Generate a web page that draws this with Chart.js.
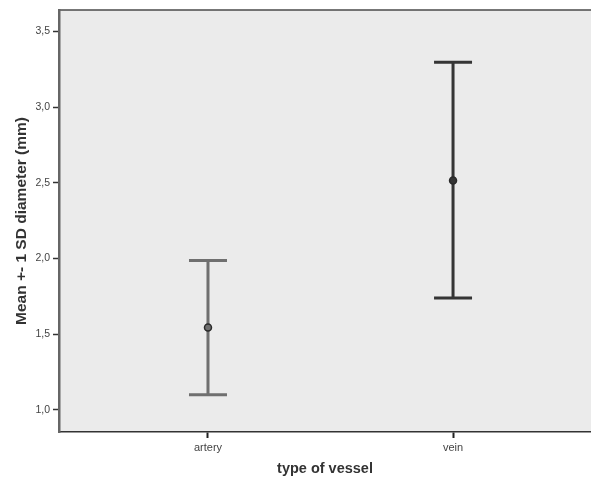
<!DOCTYPE html>
<html>
<head>
<meta charset="utf-8">
<script src="https://cdn.jsdelivr.net/npm/chart.js@4"></script>
<style>
  html, body { margin: 0; padding: 0; background: #fff; overflow: hidden; }
  #wrap { width: 591px; height: 478px; }
  canvas { display: block; }
</style>
</head>
<body>
<div id="wrap"><canvas id="chart" width="591" height="478"></canvas></div>
<script>
// data
const categories = ["artery", "vein"];
const means = [1.544, 2.516];
const upper = [1.987, 3.297];
const lower = [1.100, 1.739];
const yTicks = [1.0, 1.5, 2.0, 2.5, 3.0, 3.5];
const yTickLabels = ["1,0", "1,5", "2,0", "2,5", "3,0", "3,5"];
const barColors = ["#6f6f6f", "#353535"];

const font = "'Liberation Sans', Arial, sans-serif";

// plot background + top border
const frame = {
  id: "frame",
  beforeDraw(chart) {
    const { ctx, chartArea: a } = chart;
    ctx.save();
    ctx.fillStyle = "#ebebeb";
    ctx.fillRect(a.left, a.top, a.right - a.left, a.bottom - a.top);
    ctx.strokeStyle = "#4a4a4a";
    ctx.lineWidth = 1.5;
    ctx.beginPath();
    ctx.moveTo(a.left, a.top);
    ctx.lineTo(a.right, a.top);
    ctx.stroke();
    ctx.restore();
  },
};

// error bars (mean +- 1 SD)
const errorBars = {
  id: "errorBars",
  beforeDatasetsDraw(chart) {
    const { ctx } = chart;
    const xs = chart.scales.x, ys = chart.scales.y;
    ctx.save();
    categories.forEach((c, i) => {
      const x = xs.getPixelForValue(i);
      const yt = ys.getPixelForValue(upper[i]);
      const yb = ys.getPixelForValue(lower[i]);
      ctx.strokeStyle = barColors[i];
      ctx.lineWidth = 3;
      ctx.beginPath();
      ctx.moveTo(x, yt); ctx.lineTo(x, yb);
      ctx.moveTo(x - 19, yt); ctx.lineTo(x + 19, yt);
      ctx.moveTo(x - 19, yb); ctx.lineTo(x + 19, yb);
      ctx.stroke();
    });
    ctx.restore();
  },
};

new Chart(document.getElementById("chart"), {
  type: "scatter",
  data: {
    datasets: [{
      data: means.map((m, i) => ({ x: i, y: m })),
      pointRadius: 3.5,
      pointBackgroundColor: barColors,
      pointBorderColor: "#2a2a2a",
      pointBorderWidth: 1.5,
    }],
  },
  options: {
    responsive: false,
    animation: false,
    layout: { autoPadding: false, padding: { top: 10, right: 0, left: 0, bottom: 0 } },
    plugins: { legend: { display: false }, tooltip: { enabled: false } },
    scales: {
      x: {
        type: "linear",
        min: -0.608,
        max: 1.563,
        afterBuildTicks: (s) => { s.ticks = categories.map((c, i) => ({ value: i })); },
        afterFit: (s) => { s.height = 46; s.paddingLeft = 0; s.paddingRight = 0; },
        border: { color: "#333", width: 1.5 },
        grid: { drawOnChartArea: false, drawTicks: true, tickLength: 6, tickColor: "#222", tickWidth: 2 },
        ticks: {
          callback: (v) => categories[v],
          font: { family: font, size: 11 },
          color: "#444",
          padding: 3,
          maxRotation: 0,
        },
        title: {
          display: true,
          text: "type of vessel",
          font: { family: font, size: 14.5, weight: "bold" },
          color: "#333",
          padding: { top: 4, bottom: 0 },
        },
      },
      y: {
        min: 0.854,
        max: 3.642,
        afterBuildTicks: (s) => { s.ticks = yTicks.map((v) => ({ value: v })); },
        afterFit: (s) => { s.width = 59; },
        border: { color: "#666", width: 2.5 },
        grid: { drawOnChartArea: false, tickLength: 6, tickColor: "#333", tickWidth: 1.5 },
        ticks: {
          callback: (v) => yTickLabels[yTicks.indexOf(v)],
          font: { family: font, size: 10.5 },
          color: "#444",
          padding: 3,
        },
        title: {
          display: true,
          text: "Mean +- 1 SD diameter (mm)",
          font: { family: font, size: 15.5, weight: "bold" },
          color: "#333",
          padding: { top: 12, bottom: 0 },
        },
      },
    },
  },
  plugins: [frame, errorBars],
});
</script>
</body>
</html>
